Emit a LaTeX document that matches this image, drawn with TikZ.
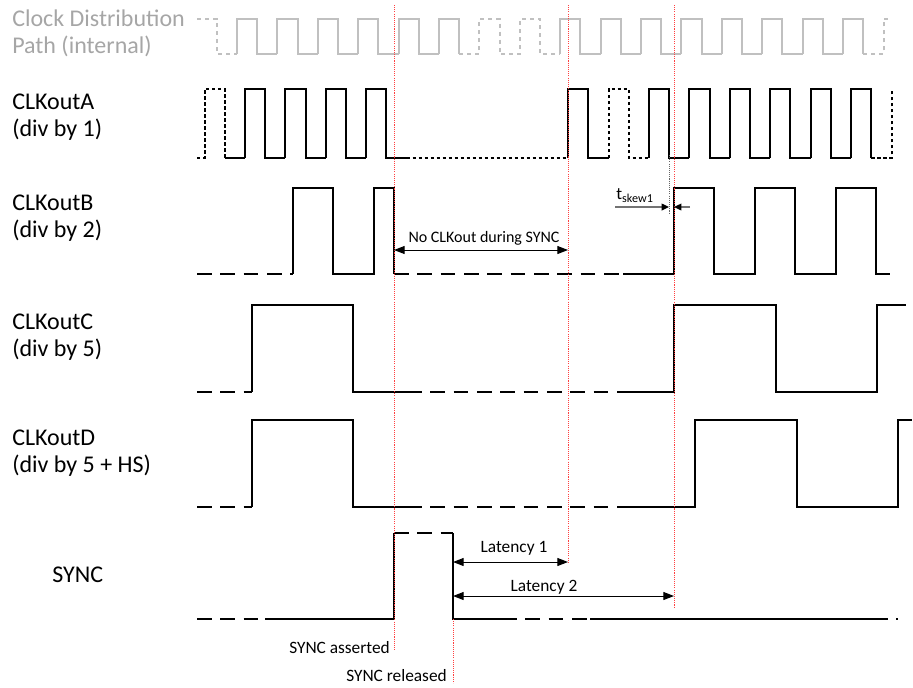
\documentclass[tikz,border=0pt]{standalone}
\usepackage{fontspec}
\setmainfont{Carlito}
\usetikzlibrary{arrows.meta,positioning}
\definecolor{clkgray}{HTML}{C0C0C0}
\definecolor{txtgray}{HTML}{A6A6A6}

\begin{document}
\begin{tikzpicture}[x=0.75pt,y=-0.75pt,
 wave/.style={line width=1.5pt},
 fine/.style={wave,dash pattern=on 2.5pt off 2pt},
 gap/.style={wave,dash pattern=on 11pt off 6.5pt},
 ghost/.style={line width=1.5pt,clkgray},
 marker/.style={red!75,line width=0.75pt,dash pattern=on 0.8pt off 0.8pt},
 lbl/.style={font=\fontsize{18}{20.5}\selectfont,align=left,anchor=west,inner sep=0pt},
 note/.style={font=\fontsize{13}{15}\selectfont,inner sep=0pt},
 dim/.style={line width=0.75pt,{Triangle[length=8pt,width=6pt]}-{Triangle[length=8pt,width=6pt]}},
 skew/.style={line width=1pt,black!55,-{Triangle[length=5.5pt,width=5pt,color=black]}}]
\useasboundingbox (0,0) rectangle (913,687);

% signal names
\node[lbl,txtgray] (nclk) at (12,33.5) {Clock Distribution\\Path (internal)};
\node[lbl] (nA) at (12,117) {CLKoutA\\(div by 1)};
\node[lbl] (nB) at (12,218) {CLKoutB\\(div by 2)};
\node[lbl] (nC) at (12,337) {CLKoutC\\(div by 5)};
\node[lbl] (nD) at (12,453) {CLKoutD\\(div by 5 + HS)};
\node[lbl] (nS) at (52,575) {SYNC};

% internal clock
\draw[ghost,dashed] (197,19) -| (216.8,54) -- (237,54);
\foreach \k in {0,1,2,3,4,8,9,10,11,12,13,14}
  \draw[ghost] ({237+40.4*\k},54) |- ({257.2+40.4*\k},19) |- ({277.4+40.4*\k},54);
\foreach \k in {5,15}
  \draw[ghost] ({237+40.4*\k},54) |- ({257.2+40.4*\k},19) -- ({257.2+40.4*\k},54);
\draw[ghost,dashed] (459.2,54) -| (479.4,19) -| (499.6,54) -| (519.8,19) -| (540,54) -- (560.2,54);
\draw[ghost,dashed] (863.2,54) -| (883.6,19) -- (891,19);

% CLKoutA
\draw[fine] (197,158) -| (204.6,89) -| (224.8,158);
\draw[wave] (224.8,158) -- (245,158);
\foreach \k in {0,1,2,3,8,10,11,12,13,14}
  \draw[wave] ({245+40.4*\k},158) |- ({265.2+40.4*\k},89) |- ({285.4+40.4*\k},158);
\draw[fine] (406.6,158) -- (568.2,158);
\draw[fine] (608.6,158) |- (628.8,89) |- (649,158);
\draw[wave] (851,158) |- (871.2,89) -- (871.2,158);
\draw[fine] (871.2,158) -| (891.6,89);

% CLKoutB
\draw[gap] (197,274) -- (293,274);
\draw[wave] (293,274) |- (333.4,188) |- (373.8,274) |- (394,188) -- (394,274);
\draw[gap] (394,274) -- (623,274);
\draw[wave] (623,274) -- (674,274) |- (714.4,188) |- (754.8,274) |- (795.2,188) |- (835.6,274) |- (876,188) |- (890,274);

% CLKoutC
\draw[gap] (197,392) -- (252,392);
\draw[wave] (252,392) |- (353,305) |- (407,392);
\draw[gap] (407,392) -- (623,392);
\draw[wave] (623,392) -- (674,392) |- (776,305) |- (877,392) |- (891,305);
\draw[gap] (891,305) -- (906,305);

% CLKoutD
\draw[gap] (197,507) -- (252,507);
\draw[wave] (252,507) |- (353,420) |- (407,507);
\draw[gap] (407,507) -- (623,507);
\draw[wave] (623,507) -- (695,507) |- (797,420) |- (898,507) |- (912,420);

% SYNC
\draw[gap] (197,619) -- (265,619);
\draw[wave] (265,619) -| (394,533);
\draw[gap] (394,533) -- (453,533);
\draw[wave] (453,533) |- (502,619);
\draw[gap] (502,619) -- (590,619);
\draw[wave] (590,619) -- (873,619);
\draw[gap] (873,619) -- (898,619);

% time markers
\coordinate (asrt) at (394,5);
\coordinate (rls) at (453,619);
\coordinate (lat1) at (568,5);
\coordinate (lat2) at (674,5);
\draw[marker] (asrt) -- ++(0,645);
\draw[marker] (rls) -- ++(0,64);
\draw[marker] (lat1) -- ++(0,558);
\draw[marker] (lat2) -- ++(0,602);
\node[note,anchor=east] (sa) at (390,648) {SYNC asserted};
\node[note,anchor=east] (sr) at (447,676) {SYNC released};

% skew between A and B
\coordinate (skA) at (669,155);
\coordinate (skB) at (674,207);
\draw[black!60,line width=0.75pt,dash pattern=on 0.8pt off 0.8pt] (skA) -- ++(0,58);
\draw[skew] (615,207) -- (skA |- skB);
\draw[skew] (690,207) -- (skB);
\node[note] (tsk) at (635,196) {t\textsubscript{skew1}};

% no output while SYNC
\coordinate (ncA) at (394,250);
\coordinate (ncB) at (568,250);
\draw[dim] (ncA) -- (ncB);
\node[note,font=\fontsize{12}{14}\selectfont] (ncl) at (484,238) {No CLKout during SYNC};

% latencies
\coordinate (l1A) at (453,562);
\coordinate (l1B) at (568,562);
\coordinate (l2A) at (453,596);
\coordinate (l2B) at (674,596);
\draw[dim] (l1A) -- (l1B);
\draw[dim] (l2A) -- (l2B);
\node[note] (lt1) at (514,548) {Latency 1};
\node[note] (lt2) at (544,587) {Latency 2};
\end{tikzpicture}
\end{document}
